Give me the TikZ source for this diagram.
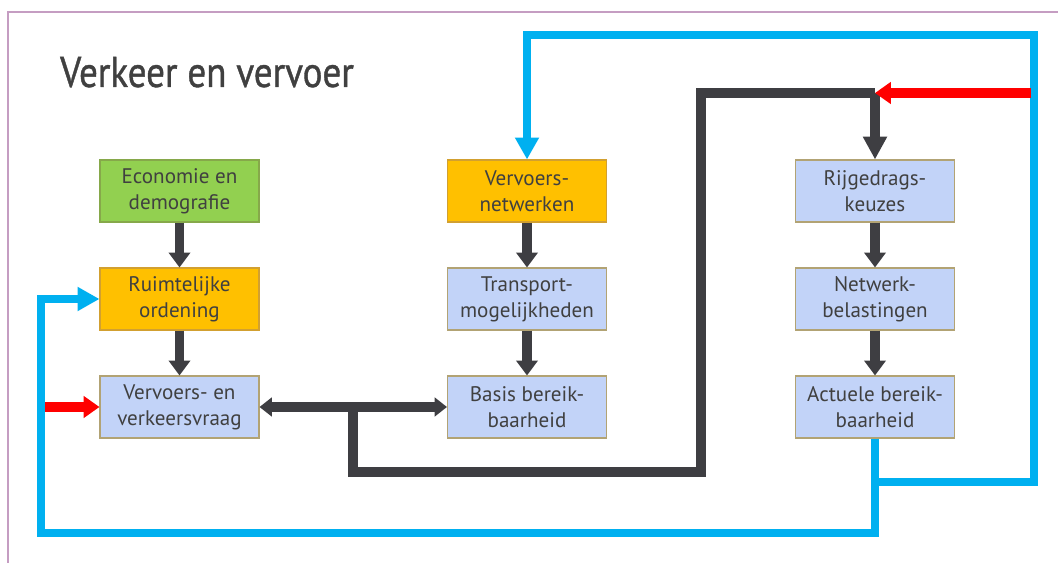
\documentclass[tikz,border=0pt]{standalone}
\usepackage{fontspec}
\setmainfont{PT Sans}
\newfontfamily\titlefont[FakeStretch=0.86,FakeBold=0.9]{PT Sans}
\usetikzlibrary{arrows.meta}

\definecolor{frameline}{HTML}{C59DC2}
\definecolor{ink}{HTML}{404040}
\definecolor{flowdark}{HTML}{3E3E42}
\definecolor{flowblue}{HTML}{00B0F0}
\definecolor{flowred}{HTML}{FF0000}
\definecolor{boxgreen}{HTML}{92D050}
\definecolor{boxorange}{HTML}{FFC000}
\definecolor{boxblue}{HTML}{C2D3F8}
\definecolor{edgegreen}{HTML}{86A84A}
\definecolor{edgeorange}{HTML}{D2A030}
\definecolor{edgeblue}{HTML}{B2A374}

\begin{document}
\begin{tikzpicture}[x=0.02cm,y=-0.02cm,
    box/.style={line width=0.6pt, minimum width=3.18cm, minimum height=1.24cm,
      inner sep=0pt, align=center, text=ink, font=\fontsize{12}{14.7}\selectfont},
    darrow/.style={draw=flowdark, line width=5.2pt,
      -{Triangle[width=12pt,length=8.5pt]}},
    dline/.style={draw=flowdark, line width=5.2pt},
    barrow/.style={draw=flowblue, line width=4.6pt,
      -{Triangle[width=13pt,length=12.5pt]}},
    rarrow/.style={draw=flowred, line width=6.2pt,
      -{Triangle[width=12pt,length=9pt]}}]
\useasboundingbox (0,0) rectangle (1058,563); % adjust bounding box
\draw[frameline, line width=0.8pt] (8,563) -- (8,12) -- (1058,12);

\node[anchor=base west, text=ink, font=\titlefont\fontsize{24.5}{29}\selectfont]
  (title) at (54,87) {Verkeer en vervoer};

% left column
\node[box, fill=boxgreen, draw=edgegreen] (econ) at (179.5,191) {Economie en\\demografie};
\node[box, fill=boxorange, draw=edgeorange] (ruimte) at (179.5,299) {Ruimtelijke\\ordening};
\node[box, fill=boxblue, draw=edgeblue] (vraag) at (179.5,407) {Vervoers- en\\verkeersvraag};
% middle column
\node[box, fill=boxorange, draw=edgeorange] (netwerk) at (527,191) {Vervoers-\\netwerken};
\node[box, fill=boxblue, draw=edgeblue] (mogelijk) at (527,299) {Transport-\\mogelijkheden};
\node[box, fill=boxblue, draw=edgeblue] (basis) at (527,407) {Basis bereik-\\baarheid};
% right column
\node[box, fill=boxblue, draw=edgeblue] (keuze) at (875,191) {Rijgedrags-\\keuzes};
\node[box, fill=boxblue, draw=edgeblue] (belast) at (875,299) {Netwerk-\\belastingen};
\node[box, fill=boxblue, draw=edgeblue] (actueel) at (875,407) {Actuele bereik-\\baarheid};

\draw[darrow] (econ) -- (ruimte);
\draw[darrow] (ruimte) -- (vraag);
\draw[darrow] (netwerk) -- (mogelijk);
\draw[darrow] (mogelijk) -- (basis);
\draw[darrow] (keuze) -- (belast);
\draw[darrow] (belast) -- (actueel);

\draw[dline, {Triangle[width=10.5pt,length=7pt]}-{Triangle[width=10.5pt,length=7pt]}]
  (vraag) -- (basis);

% loop back to the driving choices
\coordinate (tap) at (353,407);
\coordinate (entry) at (875,93);
\draw[dline] (tap) -- (353,472) -| (701,93) -- (entry);
\draw[darrow, -{Triangle[width=13pt,length=13pt]}] (entry) -- (keuze);

% feedback lines
\coordinate (fork) at (875,482);
\draw[barrow] (actueel) |- (41,533) |- (ruimte);
\draw[barrow] (fork) -| (1034,35) -| (netwerk);

\draw[rarrow] (1031,93) -- (entry);
\coordinate (input) at (45,407);
\draw[rarrow] (input) -- (vraag);
\end{tikzpicture}
\end{document}
